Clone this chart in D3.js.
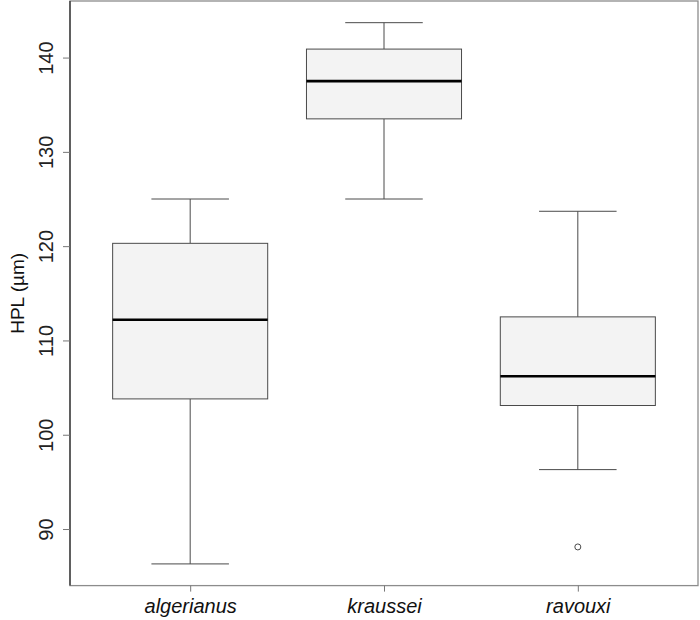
<!DOCTYPE html>
<html><head><meta charset="utf-8">
<script src="https://cdn.jsdelivr.net/npm/d3@7"></script>
<style>body{margin:0;background:#fff;} svg{display:block;font-family:"Liberation Sans",Arial,sans-serif;}</style>
</head><body>
<svg id="c" width="700" height="620"></svg>
<script>
const categories = ["algerianus", "kraussei", "ravouxi"];
const lowerWhisker = [86.3, 125.0, 96.3];
const q1 = [103.8, 133.5, 103.1];
const median = [112.2, 137.5, 106.2];
const q3 = [120.3, 140.9, 112.5];
const upperWhisker = [125.0, 143.7, 123.7];
const outliers = [[], [], [88.1]];
const yTicks = [90, 100, 110, 120, 130, 140];
const yLabel = "HPL (\u00b5m)";

const svg = d3.select("#c");
const L = 70, R = 698, T = 1, B = 585.6;
const x = d3.scaleLinear().domain([0.38, 3.62]).range([L, R]);
const y = d3.scaleLinear().domain([84.0, 146.0]).range([B, T]);
const boxW = x(1.8) - x(1.0);
const capW = boxW / 2;
const stroke = "#4a4a4a";

// frame
svg.append("rect").attr("x", L).attr("y", T).attr("width", R - L).attr("height", B - T)
  .attr("fill", "none").attr("stroke", "#8c8c8c").attr("stroke-width", 1.3);

const data = categories.map((c, i) => ({c, i: i + 1, lw: lowerWhisker[i], q1: q1[i], med: median[i], q3: q3[i], uw: upperWhisker[i], out: outliers[i]}));

const g = svg.selectAll("g.box").data(data).join("g").attr("class", "box");
// whiskers
g.append("line").attr("x1", d => x(d.i)).attr("x2", d => x(d.i)).attr("y1", d => y(d.q3)).attr("y2", d => y(d.uw)).attr("stroke", stroke).attr("stroke-width", 1);
g.append("line").attr("x1", d => x(d.i)).attr("x2", d => x(d.i)).attr("y1", d => y(d.q1)).attr("y2", d => y(d.lw)).attr("stroke", stroke).attr("stroke-width", 1);
g.append("line").attr("x1", d => x(d.i) - capW / 2).attr("x2", d => x(d.i) + capW / 2).attr("y1", d => y(d.uw)).attr("y2", d => y(d.uw)).attr("stroke", stroke).attr("stroke-width", 1);
g.append("line").attr("x1", d => x(d.i) - capW / 2).attr("x2", d => x(d.i) + capW / 2).attr("y1", d => y(d.lw)).attr("y2", d => y(d.lw)).attr("stroke", stroke).attr("stroke-width", 1);
// box
g.append("rect").attr("x", d => x(d.i) - boxW / 2).attr("width", boxW)
  .attr("y", d => y(d.q3)).attr("height", d => y(d.q1) - y(d.q3))
  .attr("fill", "#f3f3f3").attr("stroke", stroke).attr("stroke-width", 1);
// median
g.append("line").attr("x1", d => x(d.i) - boxW / 2).attr("x2", d => x(d.i) + boxW / 2).attr("y1", d => y(d.med)).attr("y2", d => y(d.med)).attr("stroke", "#000").attr("stroke-width", 2.6);
// outliers
g.selectAll("circle").data(d => d.out.map(v => ({i: d.i, v}))).join("circle")
  .attr("cx", d => x(d.i)).attr("cy", d => y(d.v)).attr("r", 3).attr("fill", "none").attr("stroke", stroke).attr("stroke-width", 1);

// y axis
const yAxis = svg.append("g").attr("transform", `translate(${L},0)`)
  .call(d3.axisLeft(y).tickValues(yTicks).tickSize(7).tickFormat(d3.format("d")));
yAxis.select(".domain").attr("d", `M0,${B}V${T}`).attr("stroke", "#333").attr("stroke-width", 1.3);
yAxis.selectAll(".tick line").attr("stroke", "#777");
yAxis.selectAll(".tick text").attr("x", 0).attr("dy", 0)
  .attr("transform", "translate(-17,0) rotate(-90)").attr("text-anchor", "middle")
  .attr("font-size", 20).attr("fill", "#222").attr("font-family", "Liberation Sans, Arial, sans-serif");

// x axis
const xAxis = svg.append("g").attr("transform", `translate(0,${B})`)
  .call(d3.axisBottom(x).tickValues([1, 2, 3]).tickSize(6).tickFormat((d) => categories[d - 1]));
xAxis.select(".domain").remove();
xAxis.selectAll(".tick line").attr("stroke", "#777");
xAxis.selectAll(".tick text").attr("y", 27).attr("dy", 0)
  .attr("font-size", 20).attr("font-style", "italic").attr("fill", "#111").attr("font-family", "Liberation Sans, Arial, sans-serif");

// y label
svg.append("text").attr("transform", `translate(24,${(T + B) / 2}) rotate(-90)`)
  .attr("text-anchor", "middle").attr("font-size", 19).attr("fill", "#111").text(yLabel);
</script>
</body></html>
